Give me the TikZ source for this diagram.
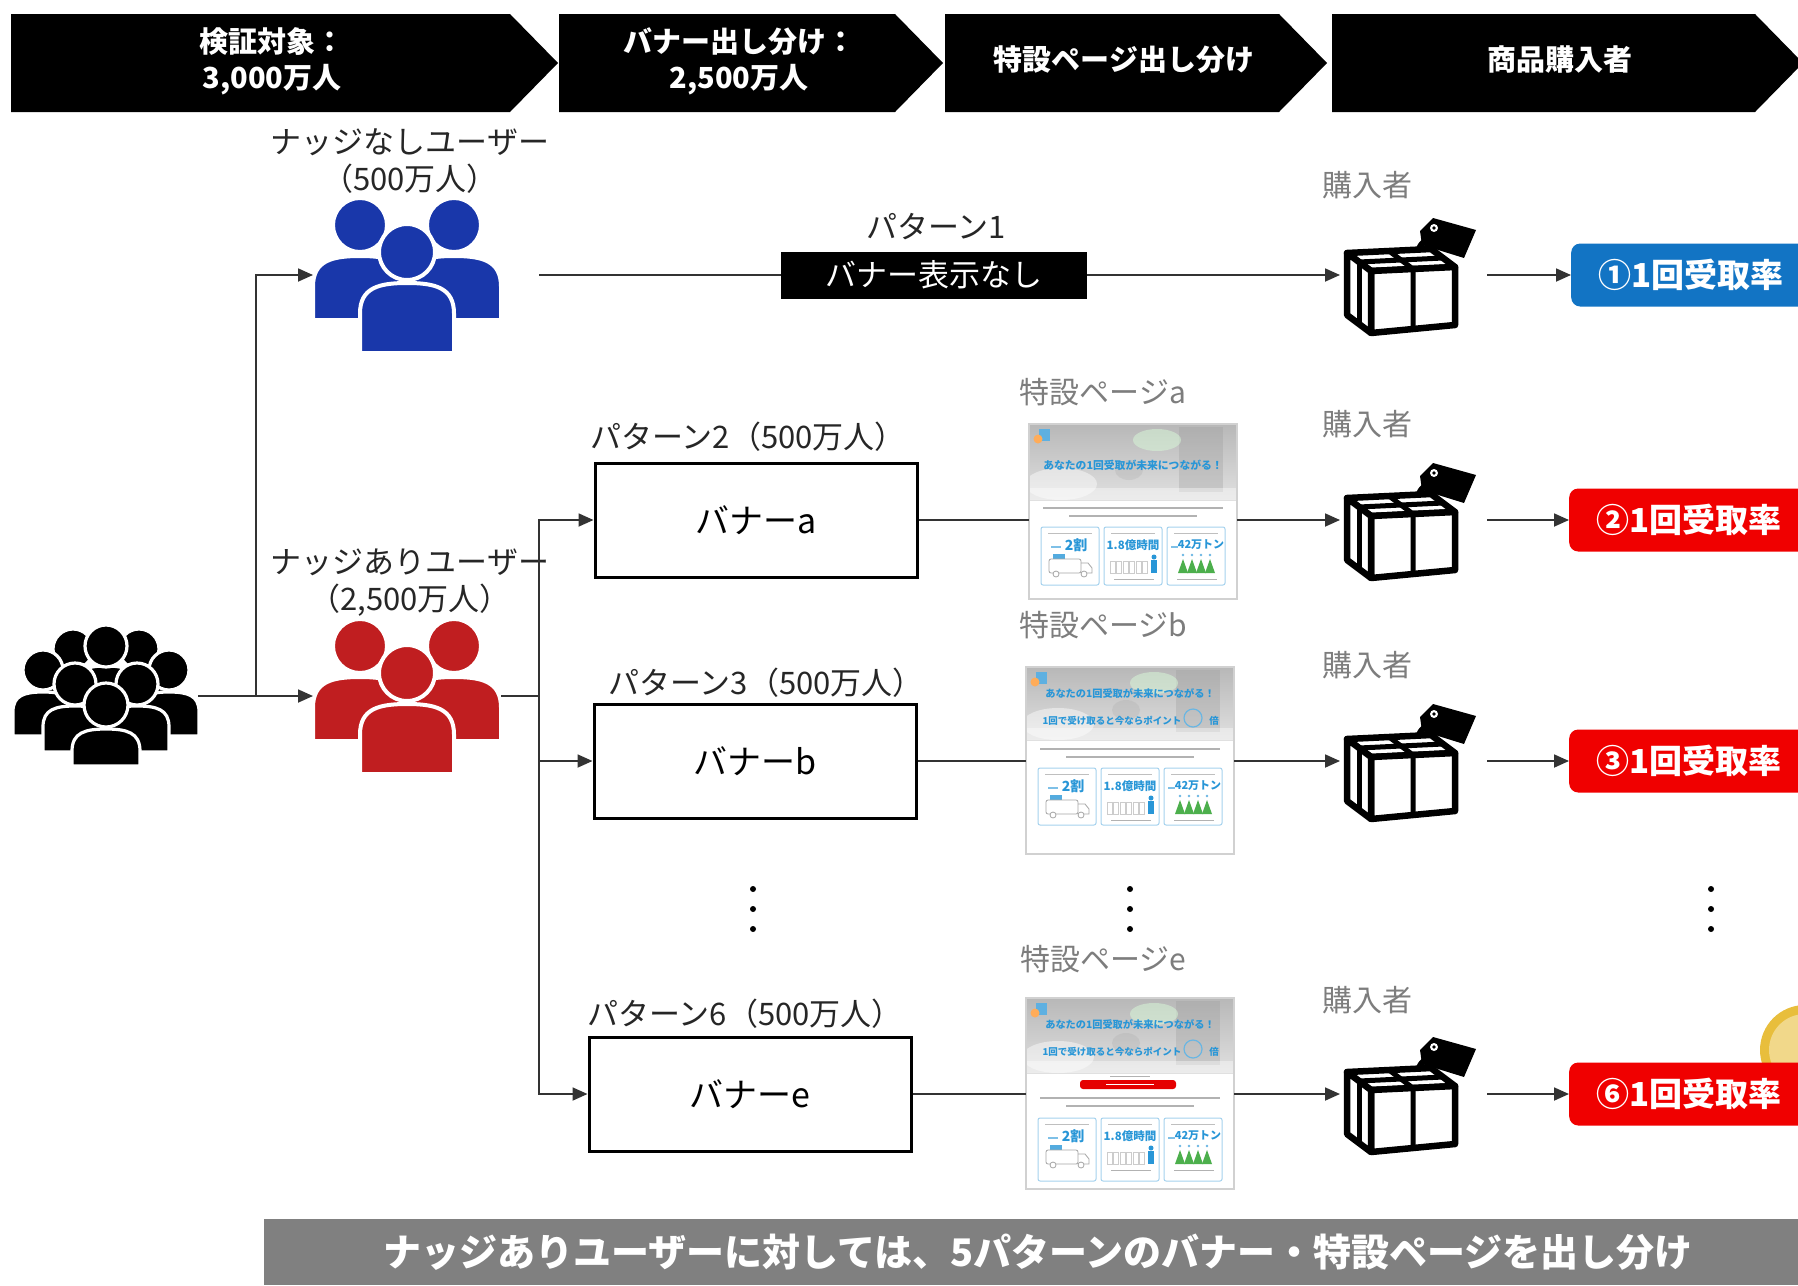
\documentclass[tikz,border=0pt]{standalone}
\usepackage{fontspec}
\setmainfont{Noto Sans CJK JP}
\usetikzlibrary{arrows.meta}

\definecolor{ublue}{RGB}{25,55,170}
\definecolor{ured}{RGB}{192,30,32}
\definecolor{rateblue}{RGB}{18,116,196}
\definecolor{ratered}{RGB}{240,0,0}
\definecolor{lbl}{RGB}{38,38,38}
\definecolor{lblgrey}{RGB}{125,125,125}
\definecolor{barg}{RGB}{128,128,128}
\definecolor{pblue}{RGB}{40,150,215}
\definecolor{pline}{RGB}{165,210,238}
\definecolor{coin}{RGB}{232,190,60}

\newcommand\fsz[1]{\fontsize{#1}{#1}\selectfont}
\def\gapw{4pt}

% one person: #1 x, #2 head y, #3 head radius, #4 body half width,
% #5 body top, #6 body bottom, #7 colour
\newcommand\prsn[7]{%
  \filldraw[fill=#7, draw=white, line width=\gapw]
    ({#1-#4},#6) -- ({#1-#4},{#5+0.65*#4})
    .. controls ({#1-#4},{#5+0.1*#4}) and ({#1-0.6*#4},#5) .. (#1,#5)
    .. controls ({#1+0.6*#4},#5) and ({#1+#4},{#5+0.1*#4}) .. ({#1+#4},{#5+0.65*#4})
    -- ({#1+#4},#6) -- cycle;
  \filldraw[fill=#7, draw=white, line width=\gapw] (#1,#2) circle (#3pt);
}

% group of three users centred at (#1,#2)
\newcommand\usergroup[3]{%
  \begin{scope}[shift={(#1,#2)}]
    \prsn{-47}{-50}{27}{47}{-19}{45}{#3}
    \prsn{47}{-50}{27}{47}{-19}{45}{#3}
    \prsn{0}{-23}{28}{47}{8}{78}{#3}
  \end{scope}}

% crowd of people centred at (#1,#2)
\newcommand\crowd[2]{%
  \begin{scope}[shift={(#1,#2)}]
    \def\gapw{3.2pt}
    \prsn{-33}{-47}{20}{30}{-28}{20}{black}
    \prsn{33}{-47}{20}{30}{-28}{20}{black}
    \prsn{0}{-50}{21}{30}{-30}{20}{black}
    \prsn{-63}{-26}{20}{30}{-4}{40}{black}
    \prsn{63}{-26}{20}{30}{-4}{40}{black}
    \prsn{-31}{-12}{21}{32}{10}{56}{black}
    \prsn{31}{-12}{21}{32}{10}{56}{black}
    \prsn{0}{9}{22}{34}{33}{70}{black}
  \end{scope}}

% parcel with a tag; (#1,#2) is the left corner of the lid
\newcommand\parcel[2]{%
  \begin{scope}[shift={(#1,#2)}, line join=round, line cap=round]
    \draw[line width=6pt] (78,-12) .. controls (70,-6) and (70,2) .. (74,8);
    \fill (86,-35) -- (129,-23) -- (117,5) -- (75,-8) -- (73,-22) -- cycle;
    \fill[white] (87,-25) circle (4pt);
    \fill (87,-25) circle (1.8pt);
    \filldraw[fill=white, line width=6.5pt] (0,0) -- (84,-4) -- (108,14) -- (24,18) -- cycle;
    \filldraw[fill=white, line width=6.5pt] (24,18) -- (108,14) -- (108,72) -- (24,80) -- cycle;
    \filldraw[fill=white, line width=6.5pt] (0,0) -- (24,18) -- (24,80) -- (0,62) -- cycle;
    \draw[line width=5pt] (12,9) -- (96,5);
    \draw[line width=5pt] (42,-2) -- (66,16) -- (66,76);
    \draw[line width=5pt] (12,9) -- (12,71);
  \end{scope}}

% landing page thumbnail
% #1,#2 top-left; #3 height; #4 photo height; #5 body text y;
% #6 stat boxes top; #7 stat boxes bottom; #8 variant (0,1,2); #9 name prefix
\newcommand\spage[9]{%
  \begin{scope}[shift={(#1,#2)}]
    \fill[white] (0,0) rectangle (208,#3);
    \shade[top color=black!28, bottom color=black!12] (0,0) rectangle (208,#4);
    \fill[white, opacity=.45] (32,{#4-16}) ellipse (36pt and 16pt);
    \fill[black!40, opacity=.3] (150,3) rectangle (194,{#4-8});
    \fill[black!10!green!15!white, opacity=.5] (128,16) ellipse (24pt and 11pt);
    \fill[black!35, opacity=.25] (100,{#4-30}) ellipse (14pt and 10pt);
    \fill[white, opacity=.4] (0,{#4-12}) rectangle (208,#4);
    \fill[pblue!75] (10,5) rectangle (21,17);
    \fill[orange!65] (9,15) circle (4.5pt);
    \ifnum#8=0
      \node[pgtitle, font=\bfseries\fsz{10.8}] (#9t) at (104,41) {あなたの1回受取が未来につながる！};
    \else
      \node[pgtitle, font=\bfseries\fsz{10.2}] (#9t) at (104,27) {あなたの1回受取が未来につながる！};
      \node[pgtitle] (#9u) at (86,54) {1回で受け取ると今ならポイント};
      \draw[pblue!70, line width=1.2pt] (167,51) circle (9pt);
      \node[pgtitle] (#9v) at (188,54) {倍};
    \fi
    \ifnum#8=2
      \draw[black!30, line width=1pt] (84,{#5-22}) -- (124,{#5-22});
      \fill[red!90!black, rounded corners=3pt] (54,{#5-18}) rectangle (150,{#5-9});
      \draw[white, line width=1pt] (80,{#5-13.5}) -- (128,{#5-13.5});
    \fi
    \draw[black!30, line width=1.2pt] (14,#5) -- (194,#5);
    \draw[black!30, line width=1.2pt] (40,{#5+8}) -- (168,{#5+8});
    \foreach \bx in {12,75,138} {
      \draw[pline, line width=1pt, rounded corners=2pt] (\bx,#6) rectangle ({\bx+58},#7);
      \draw[black!25, line width=1pt] ({\bx+7},{#6+6}) -- ({\bx+51},{#6+6});
    }
    \node[pgnum, font=\bfseries\fsz{14}] (#9n1) at (47,{#6+18}) {2割};
    \draw[pblue!60, line width=1.5pt] (22,{#6+20}) -- (32,{#6+20});
    \node[pgnum, font=\bfseries\fsz{11.5}] (#9n2) at (104,{#6+18}) {1.8億時間};
    \node[pgnum, font=\bfseries\fsz{11}] (#9n3) at (172,{#6+18}) {42万トン};
    \draw[pblue!60, line width=1.5pt] (142,{#6+20}) -- (149,{#6+20});
    % truck
    \fill[pblue!80] (24,{#6+27}) rectangle (36,{#6+32});
    \draw[black!35, line width=.8pt, rounded corners=2pt] (20,{#6+32}) rectangle (52,{#6+46});
    \draw[black!35, line width=.8pt] (52,{#6+36}) -- (59,{#6+36}) -- (63,{#6+41}) -- (63,{#6+46}) -- (52,{#6+46});
    \filldraw[fill=white, draw=black!35, line width=.8pt] (27,{#6+47}) circle (3pt) (55,{#6+47}) circle (3pt);
    % parcels and a person
    \foreach \i in {0,...,5} {
      \draw[black!20, line width=.6pt] ({81+\i*6.5},{#6+34}) rectangle ({86+\i*6.5},{#6+46});
    }
    \fill[pblue] (125,{#6+30}) circle (2.5pt);
    \fill[pblue] (122,{#6+33}) rectangle (128,{#6+46});
    % trees
    \foreach \i in {0,1,2,3} {
      \fill[green!55!black!70] ({149+\i*9},{#6+46}) -- ({154+\i*9},{#6+32}) -- ({159+\i*9},{#6+46}) -- cycle;
      \fill[pblue!70] ({154+\i*9},{#6+28}) circle (1.3pt);
    }
    \draw[black!30, line width=.8pt] (85,{#6+52}) -- (125,{#6+52});
    \draw[black!30, line width=.8pt] (148,{#6+52}) -- (188,{#6+52});
    \draw[black!18, line width=1.2pt] (0,0) rectangle (208,#3);
  \end{scope}}

\tikzset{
  conn/.style={draw=black!80, line width=1.8pt},
  arr/.style={conn, -{Triangle[length=15pt,width=13pt]}},
  hdr/.style={text=white, font=\bfseries\fontsize{29}{36}\selectfont, align=center, inner sep=0pt},
  lbl/.style={text=lbl, font=\fontsize{31}{37}\selectfont, align=center, inner sep=0pt},
  glbl/.style={text=lblgrey, font=\fsz{30}, inner sep=0pt},
  bannerbox/.style={draw=black, line width=3pt, minimum width=322pt, minimum height=114pt, font=\fsz{34}, inner sep=0pt},
  rate/.style={rounded corners=9pt, minimum width=240pt, minimum height=63pt, text=white, font=\bfseries\fsz{33}, inner sep=0pt, anchor=west},
  spot/.style={inner sep=0pt, outer sep=0pt},
  pgtitle/.style={text=pblue, font=\bfseries\fsz{9.5}, inner sep=0pt},
  pgnum/.style={text=pblue, inner sep=0pt},
}

\begin{document}
\begin{tikzpicture}[x=1pt, y=-1pt]
\clip (0,0) rectangle (1798,1285);
\fill[white] (0,0) rectangle (1798,1285);

% process header
\fill (11,14) -- (510,14) -- (558,63) -- (510,112) -- (11,112) -- cycle;
\fill (559,14) -- (895,14) -- (943,63) -- (895,112) -- (559,112) -- cycle;
\fill (945,14) -- (1279,14) -- (1327,63) -- (1279,112) -- (945,112) -- cycle;
\fill (1332,14) -- (1755,14) -- (1803,63) -- (1755,112) -- (1332,112) -- cycle;
\node[hdr] (h1) at (272,61) {検証対象：\\3,000万人};
\node[hdr] (h2) at (739,61) {バナー出し分け：\\2,500万人};
\node[hdr] (h3) at (1124,60) {特設ページ出し分け};
\node[hdr] (h4) at (1560,60) {商品購入者};

% user groups
\node[spot, minimum width=184pt, minimum height=141pt] (crowd) at (106,696) {};
\node[spot, minimum width=188pt, minimum height=155pt] (blue) at (407,275) {};
\node[spot, minimum width=188pt, minimum height=155pt] (red) at (407,696) {};
\crowd{106}{696}
\usergroup{407}{275}{ublue}
\usergroup{407}{696}{ured}
\node[lbl] (lno) at (410,161) {ナッジなしユーザー\\（500万人）};
\node[lbl] (lyes) at (410,583) {ナッジありユーザー\\（2,500万人）};

% patterns
\node[lbl] (pl1) at (936,227) {パターン1};
\node[fill=black, text=white, font=\fsz{31}, minimum width=306pt, minimum height=47pt, inner sep=0pt] (p1) at (934,275) {バナー表示なし};
\node[lbl] (pl2) at (748,437) {パターン2（500万人）};
\node[lbl] (pl3) at (766,683) {パターン3（500万人）};
\node[lbl] (pl6) at (745,1014) {パターン6（500万人）};
\node[bannerbox] (ba) at (756,520) {バナーa};
\node[bannerbox] (bb) at (755,761) {バナーb};
\node[bannerbox] (be) at (750,1094) {バナーe};

% landing pages
\node[glbl] (la) at (1103,392) {特設ページa};
\node[glbl] (lb) at (1103,625) {特設ページb};
\node[glbl] (le) at (1103,959) {特設ページe};
\node[spot, minimum width=208pt, minimum height=175pt] (pa) at (1133,511.5) {};
\node[spot, minimum width=208pt, minimum height=187pt] (pb) at (1130,760.5) {};
\node[spot, minimum width=208pt, minimum height=191pt] (pe) at (1130,1093.5) {};
\spage{1029}{424}{175}{76}{84}{103}{161}{0}{pga}
\spage{1026}{667}{187}{73}{82}{101}{158}{1}{pgb}
\spage{1026}{998}{191}{75}{100}{120}{183}{2}{pge}

% buyers
\node[glbl] (k1) at (1367,185) {購入者};
\node[glbl] (ka) at (1367,424) {購入者};
\node[glbl] (kb) at (1367,665) {購入者};
\node[glbl] (ke) at (1367,1000) {購入者};
\node[spot, minimum width=134pt, minimum height=120pt] (c1) at (1411,276) {};
\node[spot, minimum width=134pt, minimum height=120pt] (ca) at (1411,521) {};
\node[spot, minimum width=134pt, minimum height=120pt] (cb) at (1411,762) {};
\node[spot, minimum width=134pt, minimum height=120pt] (ce) at (1411,1095) {};
\parcel{1347}{253}
\parcel{1347}{498}
\parcel{1347}{739}
\parcel{1347}{1072}

% rates
\fill[coin] (1805,1050) circle (45pt);
\fill[coin!60!white] (1805,1050) circle (36pt);
\node[rate, fill=rateblue] (r1) at (1571,275) {①1回受取率};
\node[rate, fill=ratered] (r2) at (1569,520) {②1回受取率};
\node[rate, fill=ratered] (r3) at (1569,761) {③1回受取率};
\node[rate, fill=ratered] (r6) at (1569,1094) {⑥1回受取率};

% connectors
\coordinate (j0) at (256,696);
\coordinate (j1) at (539,696);
\coordinate (s1) at (539,275);
\draw[arr] (crowd.east) -- (red.west);
\draw[arr] (j0) |- (blue.west);
\draw[conn] (red.east) -- (j1);
\draw[arr] (j1) |- (ba.west);
\draw[arr] (j1) |- (bb.west);
\draw[arr] (j1) |- (be.west);

\draw[conn] (s1) -- (p1.west);
\draw[arr] (p1.east) -- ([xshift=-4pt]p1.east -| c1.west);
\draw[arr] ([xshift=9pt]c1.east |- p1.east) -- (p1.east -| r1.west);

\draw[conn] (ba.east) -- (ba.east -| pa.west);
\draw[arr] (pa.east |- ba.east) -- ([xshift=-4pt]ba.east -| ca.west);
\draw[arr] ([xshift=9pt]ca.east |- ba.east) -- (ba.east -| r2.west);

\draw[conn] (bb.east) -- (bb.east -| pb.west);
\draw[arr] (pb.east |- bb.east) -- ([xshift=-4pt]bb.east -| cb.west);
\draw[arr] ([xshift=9pt]cb.east |- bb.east) -- (bb.east -| r3.west);

\draw[conn] (be.east) -- (be.east -| pe.west);
\draw[arr] (pe.east |- be.east) -- ([xshift=-4pt]be.east -| ce.west);
\draw[arr] ([xshift=9pt]ce.east |- be.east) -- (be.east -| r6.west);

% omitted patterns
\foreach \dx in {753,1130,1711} {
  \foreach \dy in {889,909,929} { \fill (\dx,\dy) circle (3pt); }
}

% summary bar
\fill[barg] (264,1219) rectangle (1798,1285);
\node[text=white, font=\bfseries\fsz{38}, inner sep=0pt] (note) at (1038,1252) {ナッジありユーザーに対しては、5パターンのバナー・特設ページを出し分け};
\end{tikzpicture}
\end{document}
